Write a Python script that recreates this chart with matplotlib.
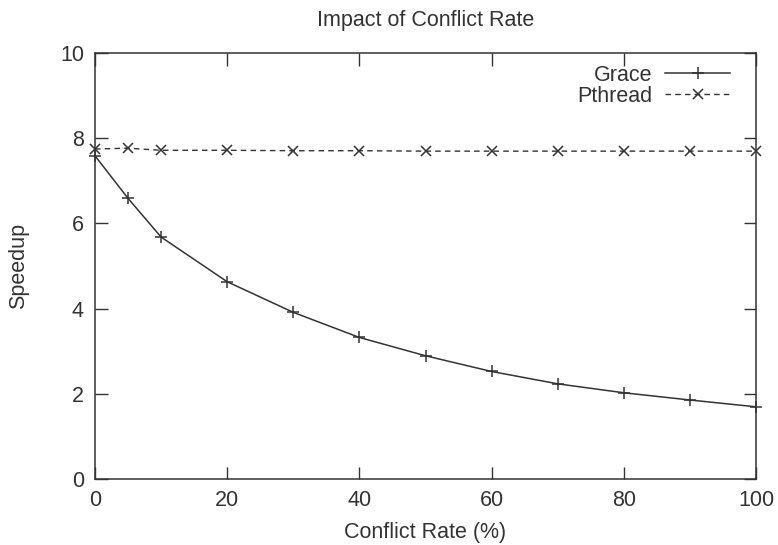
import matplotlib
matplotlib.use('Agg')
import matplotlib.pyplot as plt
import numpy as np

plt.rcParams['font.family'] = ['Liberation Sans', 'DejaVu Sans']

# conflict rate (%) and measured speedups
conflict_rate = [0, 5, 10, 20, 30, 40, 50, 60, 70, 80, 90, 100]
grace = [7.59, 6.59, 5.68, 4.63, 3.91, 3.32, 2.89, 2.52, 2.23, 2.02, 1.85, 1.69]
pthread = [7.75, 7.77, 7.72, 7.72, 7.71, 7.71, 7.70, 7.70, 7.70, 7.70, 7.70, 7.70]

ink = '#333333'
fs = 15.5

fig = plt.figure(figsize=(7.78, 5.45), dpi=100)
ax = fig.add_axes([95/778, 1 - 478.7/545, (756 - 95)/778, (478.7 - 53.3)/545])

ax.plot(conflict_rate, grace, color=ink, lw=1.1, marker='+', ms=9,
        mew=1.1, label='Grace', clip_on=False)
ax.plot(conflict_rate, pthread, color=ink, lw=1.0, ls=(0, (4, 3)),
        marker='x', ms=7, mew=1.1, label='Pthread', clip_on=False)

ax.set_xlim(0, 100)
ax.set_ylim(0, 10)
ax.set_xticks(np.arange(0, 101, 20))
ax.set_yticks(np.arange(0, 11, 2))
ax.tick_params(direction='in', length=9, width=1.0, color=ink,
               labelsize=fs, labelcolor=ink, top=True, right=True, pad=8)
for s in ax.spines.values():
    s.set_color(ink)
    s.set_linewidth(1.1)

ax.set_xlabel('Conflict Rate (%)', fontsize=fs, color=ink, labelpad=8)
ax.set_ylabel('Speedup', fontsize=fs, color=ink, labelpad=22)
ax.set_title('Impact of Conflict Rate', fontsize=fs, color=ink, pad=20)

leg = ax.legend(loc='upper right', bbox_to_anchor=(730/778, 1 - 65/545),
                bbox_transform=fig.transFigure, frameon=False,
                markerfirst=False, fontsize=fs, handlelength=3.0,
                handletextpad=0.6, labelspacing=0.0, borderpad=0,
                borderaxespad=0)
for t in leg.get_texts():
    t.set_color(ink)

fig.savefig('out.png', dpi=100)
